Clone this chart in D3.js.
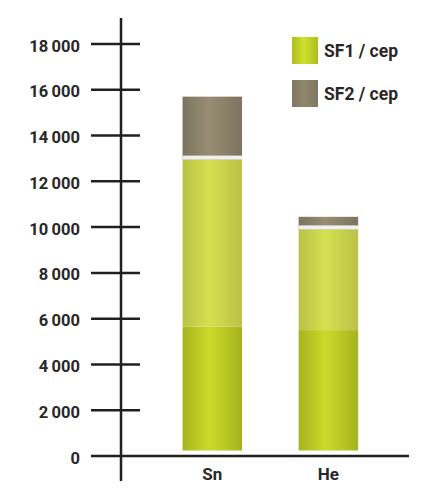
<!DOCTYPE html>
<html>
<head>
<meta charset="utf-8">
<script src="https://cdn.jsdelivr.net/npm/d3@7"></script>
<style>
  html, body { margin: 0; padding: 0; background: #ffffff; }
  svg { display: block; }
  text { font-family: Roboto, "DejaVu Sans", sans-serif; font-weight: 700; fill: #2a2727; }
</style>
</head>
<body>
<svg id="chart" width="424" height="495"></svg>
<script>
// Categories and stacked segment values
const categories = ["Sn", "He"];
const sf1Lower = [5650, 5500];   // lower (saturated) part of SF1
const sf1Upper = [7300, 4400];   // upper (lighter) part of SF1
const sf2Values = [2750, 550];   // SF2 on top
const tickValues = [0, 2000, 4000, 6000, 8000, 10000, 12000, 14000, 16000, 18000];
const legendLabels = ["SF1 / cep", "SF2 / cep"];

const svg = d3.select("#chart");
const ink = "#231f20";

const y = d3.scaleLinear().domain([0, 18000]).range([456, 44]);
const x = d3.scaleBand().domain(categories).range([124.5, 416.2])
  .paddingInner(0.4875).paddingOuter(0.5);

// Horizontal gradients give the bars a rounded look
const defs = svg.append("defs");
function grad(id, edge, mid) {
  const g = defs.append("linearGradient").attr("id", id)
    .attr("x1", "0%").attr("x2", "100%").attr("y1", "0%").attr("y2", "0%");
  g.append("stop").attr("offset", "0%").attr("stop-color", edge);
  g.append("stop").attr("offset", "45%").attr("stop-color", mid);
  g.append("stop").attr("offset", "100%").attr("stop-color", edge);
}
grad("gLower", "#a5b41f", "#cadb2a");
grad("gUpper", "#b9c246", "#d6e052");
grad("gSf2", "#7b745f", "#988d73");
grad("gLegend1", "#adbd1f", "#cfe02c");
grad("gLegend2", "#7f7762", "#8f866c");

const rows = categories.map((c, i) => ({
  cat: c, lower: sf1Lower[i], upper: sf1Upper[i], sf2: sf2Values[i]
}));
const stack = d3.stack().keys(["lower", "upper", "sf2"]);
const series = stack(rows);
const fills = { lower: "url(#gLower)", upper: "url(#gUpper)", sf2: "url(#gSf2)" };
const baseGap = 5.5; // bars stand slightly above the baseline

const barG = svg.append("g");
series.forEach(s => {
  barG.selectAll(null).data(s).enter().append("rect")
    .attr("x", d => x(d.data.cat))
    .attr("width", x.bandwidth())
    .attr("y", d => y(d[1]))
    .attr("height", d => (d[0] === 0 ? y(d[0]) - baseGap : y(d[0])) - y(d[1]))
    .attr("fill", fills[s.key]);
});

// White divider between SF1 and SF2
const sf1Top = series[1];
barG.selectAll(null).data(sf1Top).enter().append("rect")
  .attr("x", d => x(d.data.cat))
  .attr("width", x.bandwidth())
  .attr("y", d => y(d[1]) - 4)
  .attr("height", 4)
  .attr("fill", "#f0f0ee");

// Y axis: cross-shaped ticks with labels on the left
const yAxis = svg.append("g");
yAxis.selectAll(null).data(tickValues.filter(v => v > 0)).enter().append("line")
  .attr("x1", 91).attr("x2", 140)
  .attr("y1", d => y(d)).attr("y2", d => y(d))
  .attr("stroke", ink).attr("stroke-width", 2.5);
yAxis.selectAll(null).data(tickValues).enter().append("text")
  .attr("x", 80).attr("y", d => y(d) + 7.5)
  .attr("text-anchor", "end")
  .attr("font-size", 16.5)
  .text(d => d3.format(",")(d).replace(/,/g, "\u2009"));

// Axis lines
svg.append("line").attr("x1", 121).attr("x2", 121).attr("y1", 18).attr("y2", 481)
  .attr("stroke", ink).attr("stroke-width", 2.5);
svg.append("line").attr("x1", 91).attr("x2", 409).attr("y1", y(0)).attr("y2", y(0))
  .attr("stroke", ink).attr("stroke-width", 2.5);

// Category labels
svg.selectAll(null).data(categories).enter().append("text")
  .attr("x", d => x(d) + x.bandwidth() / 2)
  .attr("y", 480)
  .attr("text-anchor", "middle")
  .attr("font-size", 17)
  .text(d => d);

// Legend
const legend = svg.append("g");
const legendFills = ["url(#gLegend1)", "url(#gLegend2)"];
const legendY = [37, 80];
legendLabels.forEach((lab, i) => {
  legend.append("rect").attr("x", 292).attr("y", legendY[i])
    .attr("width", 26).attr("height", 27).attr("fill", legendFills[i]);
  legend.append("text").attr("x", 324).attr("y", legendY[i] + 20)
    .attr("font-size", 17.5).text(lab);
});
</script>
</body>
</html>
